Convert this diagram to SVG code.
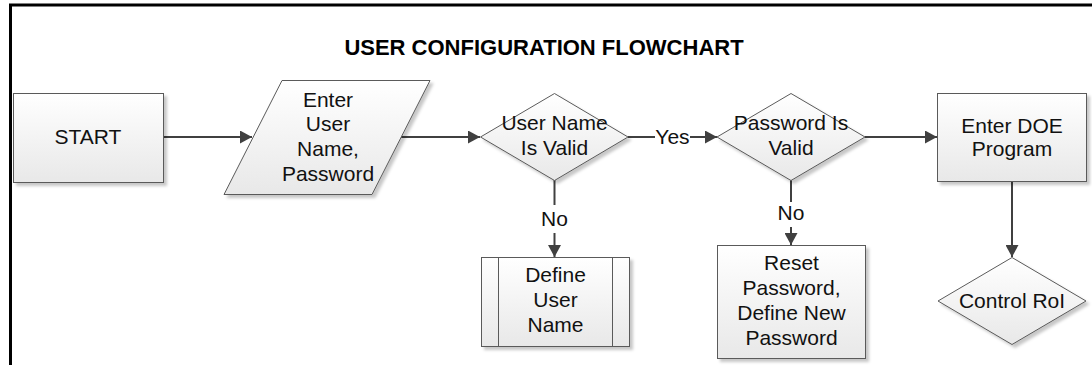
<svg xmlns="http://www.w3.org/2000/svg" width="1092" height="365" viewBox="0 0 1092 365">
  <defs>
    <linearGradient id="shapeFill" x1="0" y1="0" x2="0" y2="1">
      <stop offset="0" stop-color="#ffffff"/>
      <stop offset="1" stop-color="#e8e8e8"/>
    </linearGradient>
    <filter id="softShadow" x="-10%" y="-10%" width="130%" height="130%">
      <feDropShadow dx="3" dy="3" stdDeviation="1.5" flood-color="#000" flood-opacity="0.22"/>
    </filter>
    <marker id="arrowHead" markerUnits="userSpaceOnUse" markerWidth="13" markerHeight="13" viewBox="0 0 12 13" refX="12" refY="6.5" orient="auto">
      <path d="M0,0 L12,6.5 L0,13 Z" fill="#404040"/>
    </marker>
  </defs>
  <style>
    .shape { fill: url(#shapeFill); stroke: #5a5a5a; stroke-width: 1; filter: url(#softShadow); }
    .inner { fill: none; stroke: #5a5a5a; stroke-width: 1; }
    .label { font-family: "Liberation Sans", Arial, sans-serif; font-size: 21px; fill: #111; text-anchor: middle; }
    .title { font-family: "Liberation Sans", Arial, sans-serif; font-size: 22px; font-weight: bold; fill: #000; text-anchor: middle; }
    .link { fill: none; stroke: #404040; stroke-width: 2; }
    .frame { fill: none; stroke: #000; stroke-width: 3; }
  </style>

  <rect width="1092" height="365" fill="#ffffff"/>
  <!-- page frame (top and left edges) -->
  <path class="frame" d="M10.5,366 V5 H1093"/>

  <text class="title" x="544" y="55">USER CONFIGURATION FLOWCHART</text>

  <g id="connectors">
    <path class="link" d="M163,137 H252" marker-end="url(#arrowHead)"/>
    <path class="link" d="M401,137 H480" marker-end="url(#arrowHead)"/>
    <path class="link" d="M628,137 H655"/>
    <path class="link" d="M690,137 H717" marker-end="url(#arrowHead)"/>
    <text class="label" x="672.5" y="144">Yes</text>
    <path class="link" d="M865,137 H937" marker-end="url(#arrowHead)"/>
    <path class="link" d="M554.5,180 V205"/>
    <text class="label" x="554.5" y="226">No</text>
    <path class="link" d="M554.5,233 V257" marker-end="url(#arrowHead)"/>
    <path class="link" d="M791,180 V202"/>
    <text class="label" x="791" y="220">No</text>
    <path class="link" d="M791,227 V245" marker-end="url(#arrowHead)"/>
    <path class="link" d="M1012,181 V257" marker-end="url(#arrowHead)"/>
  </g>

  <g id="start">
    <rect class="shape" x="13.5" y="93.5" width="150" height="89"/>
    <text class="label" x="88" y="144">START</text>
  </g>

  <g id="enter-credentials">
    <path class="shape" d="M282,80.5 H430 L372,194.5 H224 Z"/>
    <text class="label" x="328" y="107">Enter</text>
    <text class="label" x="328" y="131">User</text>
    <text class="label" x="328" y="156">Name,</text>
    <text class="label" x="328" y="181">Password</text>
  </g>

  <g id="user-name-valid">
    <path class="shape" d="M554.5,93.5 L628,137 L554.5,180.5 L480.5,137 Z"/>
    <text class="label" x="554.5" y="130">User Name</text>
    <text class="label" x="554.5" y="155">Is Valid</text>
  </g>

  <g id="password-valid">
    <path class="shape" d="M791,93.5 L865,137 L791,180.5 L717,137 Z"/>
    <text class="label" x="791" y="130">Password Is</text>
    <text class="label" x="791" y="155">Valid</text>
  </g>

  <g id="enter-doe">
    <rect class="shape" x="937.5" y="93.5" width="149" height="88"/>
    <text class="label" x="1012" y="133">Enter DOE</text>
    <text class="label" x="1012" y="156">Program</text>
  </g>

  <g id="define-user-name">
    <rect class="shape" x="481.5" y="257.5" width="148" height="89"/>
    <path class="inner" d="M498.5,257.5 V346.5 M612.5,257.5 V346.5"/>
    <text class="label" x="555.5" y="282">Define</text>
    <text class="label" x="555.5" y="307">User</text>
    <text class="label" x="555.5" y="332">Name</text>
  </g>

  <g id="reset-password">
    <rect class="shape" x="717.5" y="245.5" width="148" height="113"/>
    <text class="label" x="791.5" y="270">Reset</text>
    <text class="label" x="791.5" y="295">Password,</text>
    <text class="label" x="791.5" y="320">Define New</text>
    <text class="label" x="791.5" y="345">Password</text>
  </g>

  <g id="control-roi">
    <path class="shape" d="M1012,257.5 L1086,301 L1012,344.5 L938,301 Z"/>
    <text class="label" x="1012" y="308">Control RoI</text>
  </g>
</svg>
